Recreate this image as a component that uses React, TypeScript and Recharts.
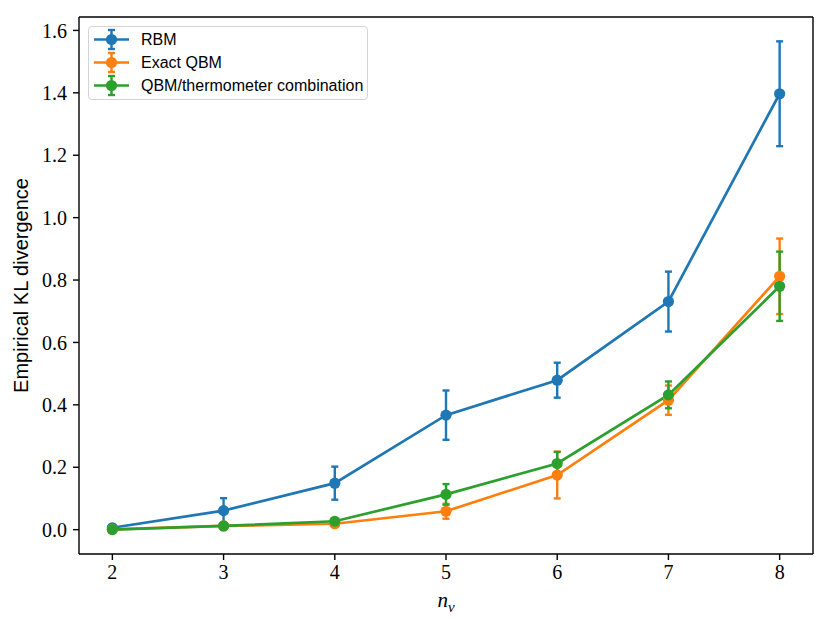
import {
  ComposedChart, Line, XAxis, YAxis, ErrorBar, ReferenceLine,
} from 'recharts';

// n_v values along the x axis
const nv = [2, 3, 4, 5, 6, 7, 8];

const rbm = [0.006, 0.061, 0.149, 0.367, 0.479, 0.731, 1.397];
const rbmErr = [0.005, 0.04, 0.053, 0.079, 0.056, 0.096, 0.168];
const exactQbm = [0.001, 0.012, 0.019, 0.059, 0.175, 0.415, 0.812];
const exactQbmErr = [0.001, 0.004, 0.006, 0.024, 0.075, 0.047, 0.121];
const thermo = [0.0, 0.012, 0.027, 0.113, 0.212, 0.432, 0.78];
const thermoErr = [0.001, 0.004, 0.006, 0.033, 0.037, 0.043, 0.111];

const yTicks = [0, 0.2, 0.4, 0.6, 0.8, 1.0, 1.2, 1.4, 1.6];
const xDomain = [1.7, 8.3];
const yDomain = [-0.078, 1.643];

const series = [
  { key: 'rbm', err: 'rbmErr', name: 'RBM', color: '#1f77b4' },
  { key: 'exact', err: 'exactErr', name: 'Exact QBM', color: '#ff7f0e' },
  { key: 'thermo', err: 'thermoErr', name: 'QBM/thermometer combination', color: '#2ca02c' },
];

const data = nv.map((n, i) => ({
  n,
  rbm: rbm[i],
  rbmErr: rbmErr[i],
  exact: exactQbm[i],
  exactErr: exactQbmErr[i],
  thermo: thermo[i],
  thermoErr: thermoErr[i],
}));

const tickStyle = { fill: '#000', fontSize: 20, fontFamily: '"Liberation Serif", serif' };
const axisLine = { stroke: '#000', strokeWidth: 1.4 };

function LegendBox() {
  return (
    <div
      style={{
        position: 'absolute', left: 88, top: 26, width: 280, height: 74,
        boxSizing: 'border-box', border: '1.3px solid #d4d4d4', borderRadius: 4,
        background: 'rgba(255,255,255,0.8)', padding: '1px 0 0 4px',
        fontFamily: '"Liberation Sans", Arial, sans-serif', fontSize: 16, color: '#000',
      }}
    >
      {series.map((s) => (
        <div key={s.key} style={{ display: 'flex', alignItems: 'center', height: 23 }}>
          <svg width={48} height={23} style={{ flex: 'none' }}>
            <line x1={1} x2={36} y1={11.5} y2={11.5} stroke={s.color} strokeWidth={2.7} />
            <line x1={18.5} x2={18.5} y1={2} y2={21} stroke={s.color} strokeWidth={2.4} />
            <line x1={15} x2={22} y1={2} y2={2} stroke={s.color} strokeWidth={2.4} />
            <line x1={15} x2={22} y1={21} y2={21} stroke={s.color} strokeWidth={2.4} />
            <circle cx={18.5} cy={11.5} r={5.6} fill={s.color} />
          </svg>
          <span>{s.name}</span>
        </div>
      ))}
    </div>
  );
}

export default function App() {
  return (
    <div style={{ position: 'relative', width: 831, height: 625, background: '#fff' }}>
      <style>{'body{margin:0}'}</style>
      <ComposedChart
        width={831}
        height={625}
        data={data}
        margin={{ top: 17, right: 18, bottom: 0, left: 0 }}
      >
        <XAxis
          dataKey="n"
          type="number"
          domain={xDomain}
          ticks={nv}
          allowDataOverflow
          height={71}
          tick={tickStyle}
          tickSize={6}
          tickMargin={5}
          axisLine={axisLine}
          tickLine={axisLine}
          label={{
            content: ({ viewBox }: any) => (
              <text
                x={viewBox.x + viewBox.width / 2}
                y={viewBox.y + 53}
                textAnchor="middle"
                fontFamily='"Liberation Serif", serif'
                fontStyle="italic"
                fontSize={21}
                fill="#000"
              >
                n<tspan fontSize={15} dy={5}>v</tspan>
              </text>
            ),
          }}
        />
        <YAxis
          type="number"
          domain={yDomain}
          ticks={yTicks}
          allowDataOverflow
          width={79}
          tick={tickStyle}
          tickSize={6}
          tickMargin={6}
          tickFormatter={(v) => Number(v).toFixed(1)}
          axisLine={axisLine}
          tickLine={axisLine}
          label={{
            content: ({ viewBox }: any) => {
              const cx = 28;
              const cy = viewBox.y + viewBox.height / 2;
              return (
                <text
                  x={cx}
                  y={cy}
                  transform={`rotate(-90 ${cx} ${cy})`}
                  textAnchor="middle"
                  fontFamily='"Liberation Sans", Arial, sans-serif'
                  fontSize={20}
                  fill="#000"
                >
                  Empirical KL divergence
                </text>
              );
            },
          }}
        />
        {/* top and right spines */}
        <ReferenceLine y={yDomain[1]} stroke="#000" strokeWidth={1.4} />
        <ReferenceLine x={xDomain[1]} stroke="#000" strokeWidth={1.4} />
        {series.map((s) => (
          <Line
            key={s.key}
            dataKey={s.key}
            name={s.name}
            stroke={s.color}
            strokeWidth={2.7}
            dot={{ r: 5.6, fill: s.color, stroke: 'none' }}
            activeDot={false}
            isAnimationActive={false}
          >
            <ErrorBar dataKey={s.err} direction="y" width={3.5} stroke={s.color} strokeWidth={2.4} />
          </Line>
        ))}
      </ComposedChart>
      <LegendBox />
    </div>
  );
}
